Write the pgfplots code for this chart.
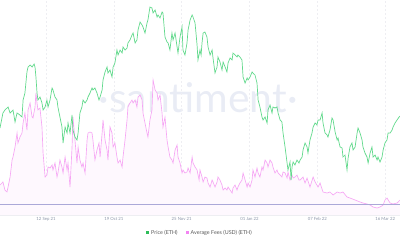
\documentclass[border=0pt]{standalone}
\usepackage{pgfplots}
\pgfplotsset{compat=1.18}
\usepackage{pgfplotstable}
\usepackage{fontspec}
\setmainfont{Lato}
\definecolor{priceg}{HTML}{62D98C}
\definecolor{pricegl}{HTML}{2EBD5A}
\definecolor{feep}{HTML}{F6A6F4}
\definecolor{feepl}{HTML}{F384F2}
\definecolor{feefill}{HTML}{FEF8FE}
\definecolor{refl}{HTML}{ABA8D8}
\definecolor{gridc}{HTML}{EEEEF2}
\definecolor{tickc}{HTML}{8C95A8}
\definecolor{wmark}{HTML}{E9ECF5}

% days since 12 Sep 2021, price in USD
\pgfplotstableread{
d p
-25.1 2970
-23.5 3195
-22.4 3240
-20.7 3285
-19.6 3195
-18.0 3240
-16.9 3060
-15.8 3195
-14.2 3165
-13.1 3135
-12.5 3390
-11.5 3495
-10.4 3810
-9.8 3885
-8.7 3915
-7.6 3885
-6.5 3930
-6.0 3885
-5.5 3735
-4.9 3495
-4.4 3390
-3.3 3435
-2.2 3345
-1.6 3240
-0.5 3285
0.5 3390
1.1 3285
2.2 3390
3.3 3570
3.8 3540
4.9 3435
6.0 3390
6.5 3285
7.6 3135
8.7 2985
9.3 2745
10.4 2985
11.5 2895
12.0 3045
13.1 2895
14.2 3165
14.7 2940
15.8 2835
16.9 2790
17.5 2895
18.5 3195
19.6 3285
20.2 3390
21.3 3345
22.4 3390
22.9 3435
24.0 3495
25.1 3570
25.6 3540
26.7 3570
27.8 3495
28.9 3390
29.5 3435
30.6 3540
31.1 3690
32.2 3810
33.3 3885
33.8 3795
34.9 3840
36.0 3735
36.6 3885
37.6 3945
38.7 4140
39.3 4065
40.4 4140
41.5 4095
42.0 4185
43.1 4140
44.2 4170
44.7 4245
45.8 4290
46.9 4365
47.5 4395
48.6 4245
49.6 4290
50.2 4440
51.3 4560
52.4 4515
52.9 4485
54.0 4395
55.1 4545
55.6 4590
56.7 4785
57.8 4770
58.4 4695
59.5 4740
60.6 4635
61.1 4665
62.2 4620
63.3 4710
63.8 4695
64.9 4335
66.0 4260
66.6 4245
67.6 4140
68.7 4395
69.3 4290
70.4 4395
71.5 4185
72.0 4095
73.1 4335
74.2 4485
74.7 4140
75.8 4065
76.9 4245
77.5 4440
78.6 4590
79.7 4665
80.2 4635
81.3 4545
82.4 4215
82.9 3990
84.0 4140
84.6 4065
85.1 4245
85.7 4395
86.7 4410
87.8 4335
88.4 4185
89.5 4065
90.6 4140
91.1 4020
92.2 3795
93.3 3885
93.8 4035
94.9 3960
96.0 3840
96.6 3960
97.7 3885
98.7 3810
99.3 3945
100.4 4020
101.5 3990
102.0 4095
103.1 4065
104.2 4035
104.7 4065
105.8 4035
106.9 3990
107.5 3735
108.6 3645
109.7 3720
110.2 3690
111.3 3735
112.4 3810
112.9 3795
114.0 3765
115.1 3645
115.7 3390
116.7 3285
117.8 3135
118.4 3090
119.5 3135
120.6 3045
121.1 3240
122.2 3315
123.3 3195
123.8 3285
124.9 3270
126.0 3285
126.6 3195
127.7 3090
128.7 3060
129.3 2895
130.4 2685
131.5 2445
132.0 2340
133.1 2460
133.7 2190
134.2 2385
134.8 2460
135.8 2415
136.9 2490
138.0 2445
138.6 2490
139.7 2535
140.2 2640
141.3 2745
142.4 2685
142.9 2595
144.0 2790
145.1 2895
145.7 2985
146.8 3045
147.8 3015
148.4 3090
149.5 3090
150.6 3195
151.1 3045
152.2 2895
153.3 2865
153.8 2835
154.9 2940
156.0 3120
156.6 3090
157.7 2910
158.8 2790
159.3 2820
160.4 2685
161.5 2670
162.0 2535
163.1 2565
164.2 2340
164.8 2520
165.8 2685
166.9 2745
167.5 2640
168.6 2685
169.7 2895
170.2 2970
171.3 2895
172.4 2790
172.9 2685
174.0 2595
175.1 2535
175.7 2445
176.8 2595
177.8 2685
178.4 2535
179.5 2565
180.6 2490
181.1 2535
182.2 2460
183.3 2535
183.9 2640
184.9 2745
186.0 2790
186.6 2895
187.7 2895
188.8 2940
189.3 2985
190.4 3045
191.5 3090
192.6 3135
193.1 3150
}\pricetable

% days since 12 Sep 2021, average fee in USD
\pgfplotstableread{
d f
-25.1 12.0
-24.0 12.8
-23.5 13.2
-22.4 10.0
-21.3 9.2
-20.7 11.2
-19.6 15.2
-18.5 22.0
-18.0 23.2
-16.9 27.2
-15.8 32.8
-15.3 28.8
-14.2 31.2
-13.1 32.8
-12.5 36.8
-11.5 40.8
-10.4 34.0
-9.8 42.0
-8.7 44.8
-7.6 39.2
-7.1 38.8
-6.0 43.2
-5.5 48.8
-4.9 44.8
-4.4 42.0
-3.3 42.8
-2.2 35.2
-1.6 24.8
-0.5 15.2
0.5 16.0
1.1 19.2
2.2 18.8
3.3 20.0
3.8 18.0
4.9 20.8
6.0 15.2
6.5 16.8
7.6 22.0
8.7 19.2
9.3 16.8
10.4 23.2
11.5 18.0
12.0 20.8
13.1 11.2
14.2 27.2
14.7 39.2
15.8 30.0
16.9 20.8
17.5 27.2
18.5 22.0
19.6 19.2
20.2 20.8
21.3 16.8
22.4 30.0
22.9 32.8
24.0 33.2
25.1 32.8
25.6 30.0
26.7 22.0
27.8 26.0
28.9 28.8
29.5 23.2
30.6 32.8
31.1 38.0
32.2 30.0
33.3 26.0
33.8 22.0
34.9 35.2
36.0 32.8
36.6 27.2
37.6 28.8
38.7 23.2
39.3 20.8
40.4 22.0
41.5 19.2
42.0 23.2
43.1 30.0
44.2 38.0
44.7 43.2
45.8 44.8
46.9 46.0
47.5 44.8
48.6 46.0
49.6 43.2
50.2 47.2
51.3 48.0
52.4 46.0
52.9 40.8
54.0 36.8
55.1 32.8
55.6 31.2
56.7 38.0
57.8 42.0
58.4 54.0
59.5 50.0
60.6 48.8
61.1 46.0
62.2 48.0
63.3 40.8
63.8 35.2
64.9 39.2
66.0 30.0
66.6 27.2
67.6 23.2
68.7 22.0
69.3 20.8
70.4 26.0
71.5 28.0
72.0 23.2
73.1 20.8
74.2 16.8
74.7 18.0
75.8 16.8
76.9 17.2
77.5 18.8
78.6 16.8
79.7 23.2
80.2 20.8
81.3 19.2
82.4 18.0
83.5 14.0
84.0 18.0
85.1 15.2
85.7 13.2
86.7 15.2
87.8 14.8
88.4 12.8
89.5 11.2
90.6 14.0
91.1 13.2
92.2 11.2
93.3 13.2
93.8 15.2
94.9 14.0
96.0 12.0
96.6 10.0
97.7 10.8
98.7 10.0
99.3 11.2
100.4 10.0
101.5 8.8
102.0 10.8
103.1 12.0
104.2 10.0
104.7 11.2
105.8 12.8
106.9 14.0
107.5 16.8
108.6 14.0
109.7 11.2
110.2 12.8
111.3 11.2
112.4 14.0
112.9 18.0
114.0 15.2
115.1 18.8
115.7 16.8
116.7 15.2
117.8 19.2
118.4 18.0
119.5 22.0
120.6 20.8
121.1 19.2
122.2 22.0
123.3 20.8
123.8 19.2
124.9 16.8
126.0 18.0
126.6 16.8
127.7 16.0
128.7 15.2
129.3 17.2
130.4 16.8
131.5 14.8
132.0 17.2
133.1 14.0
134.2 16.0
134.8 14.8
135.8 15.2
136.9 16.0
138.0 14.0
138.6 14.0
140.2 15.2
141.3 12.8
142.4 14.8
144.0 11.2
145.7 15.2
146.8 13.2
148.4 11.2
149.5 12.8
151.1 9.2
153.3 8.8
154.9 9.2
156.6 8.0
158.8 9.2
160.4 8.8
162.0 9.2
164.2 7.2
165.8 6.8
168.6 6.0
171.3 5.2
172.9 4.8
175.1 4.4
176.8 4.0
178.4 3.2
180.6 2.8
182.2 3.2
183.9 4.0
184.9 6.0
186.0 6.8
187.7 4.8
189.3 4.4
191.5 4.8
193.1 6.0
}\feetable

\begin{document}
\begin{tikzpicture}
\path[use as bounding box] (0,0) rectangle (400bp,240bp);
\node[text=wmark, font=\fontsize{41}{41}\selectfont] at (198bp,142bp) {·santiment·};
\begin{axis}[
  at={(0,25bp)}, anchor=south west,
  scale only axis, width=400bp, height=215bp,
  xmin=-25.1, xmax=193.1,
  ymin=1665, ymax=4890,
  axis x line*=bottom, axis y line=none,
  x axis line style={draw=gridc, line width=0.5bp, -},
  xtick={0,37,74,111,148,185},
  xticklabels={12 Sep 21, 19 Oct 21, 25 Nov 21, 01 Jan 22, 07 Feb 22, 16 Mar 22},
  ytick={2070,2470,2870,3270,3670,4070,4470,4870},
  major tick length=0pt,
  xmajorgrids, ymajorgrids,
  grid style={draw=gridc, line width=0.45bp, dash pattern=on 2bp off 2bp},
  xticklabel style={font=\fontsize{4.3}{5}\selectfont, text=tickc, yshift=1.2bp},
  legend columns=2,
  legend style={at={(0.5,-0.0837)}, anchor=center, draw=none, fill=none,
    font=\fontsize{5.4}{6}\selectfont, text=black!65,
    /tikz/every even column/.append style={column sep=6bp}},
  legend image code/.code={\fill[#1, draw=none] (0bp,-1.5bp) rectangle (3bp,1.5bp);},
]
\addlegendimage{fill=pricegl, draw=none}
\addlegendentry{Price (ETH)}
\addlegendimage{fill=feepl, draw=none}
\addlegendentry{Average Fees (USD) (ETH)}
\addplot[fill=feefill, draw=none, forget plot, y filter/.expression={1665+37.5*y}] table[x=d, y=f] {\feetable} \closedcycle;
\addplot[color=feep, line width=0.65bp, forget plot, y filter/.expression={1665+37.5*y}] table[x=d, y=f] {\feetable};
\addplot[color=refl, line width=0.6bp, forget plot, y filter/.expression={1665+37.5*y}] coordinates {(-25.1,4.4) (193.1,4.4)};
\addplot[color=priceg, line width=0.7bp, forget plot] table[x=d, y=p] {\pricetable};
\end{axis}
\end{tikzpicture}
\end{document}
